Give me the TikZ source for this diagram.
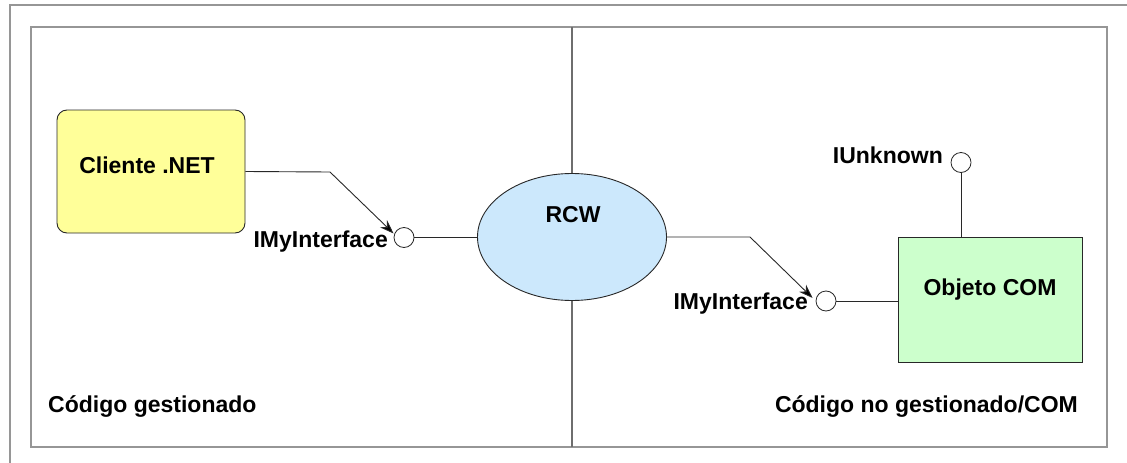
\documentclass[tikz,border=0pt]{standalone}
\usepackage{fontspec}
\setmainfont{Liberation Sans}
\usetikzlibrary{shapes.geometric,arrows.meta}

\definecolor{framegray}{RGB}{150,150,150}
\definecolor{divgray}{RGB}{110,110,110}
\definecolor{linegray}{RGB}{40,40,40}
\definecolor{clientfill}{RGB}{255,255,153}
\definecolor{rcwfill}{RGB}{204,232,252}
\definecolor{comfill}{RGB}{204,255,204}

\tikzset{
  frameline/.style={draw=framegray, line width=1.8pt},
  divider/.style={draw=divgray, line width=1.5pt},
  txt/.style={font=\fontsize{23}{27}\selectfont\bfseries, text=black, inner sep=0pt},
  clientbox/.style={draw=linegray, line width=0.9pt, fill=clientfill, rounded corners=10pt,
    minimum width=188, minimum height=123, inner sep=0pt},
  rcwshape/.style={ellipse, draw=linegray, line width=0.9pt, fill=rcwfill,
    minimum width=189, minimum height=127, inner sep=0pt},
  combox/.style={draw=linegray, line width=0.9pt, fill=comfill,
    minimum width=184, minimum height=125, inner sep=0pt},
  iface/.style={circle, draw=linegray, line width=0.8pt, fill=white,
    minimum size=20, inner sep=0pt},
  conn/.style={draw=linegray, line width=0.9pt},
  arr/.style={conn, -{Stealth[length=14pt,width=10pt,fill=black]}},
}

\begin{document}
\begin{tikzpicture}[x=1pt, y=-1pt]
  \useasboundingbox (0,0) rectangle (1127,463);

  % window edge and inner frame
  \draw[frameline] (10,463) -- (10,5) -- (1127,5);
  \draw[frameline] (31,27) rectangle (1107,447);
  % boundary between managed and unmanaged code
  \draw[divider] (572,27) -- (572,447);

  % components
  \node[clientbox] (cliente) at (151,171.5) {};
  \node[txt, anchor=base] (tcliente) at (147,173) {Cliente .NET};

  \node[rcwshape] (rcw) at (572,237) {};
  \node[txt, anchor=base] (trcw) at (573,222) {RCW};

  \node[combox] (objeto) at (990,299.5) {};
  \node[txt, anchor=base] (tobjeto) at (990,295) {Objeto COM};

  % interface lollipops
  \node[iface] (ifL) at (404,237.5) {};
  \node[iface] (ifR) at (826,301) {};
  \node[iface] (ifU) at (961,162.5) {};

  \node[txt, anchor=base east] (lifL) at (388,247) {IMyInterface};
  \node[txt, anchor=base east] (lifR) at (808,309) {IMyInterface};
  \node[txt, anchor=base east] (lifU) at (943,163) {IUnknown};

  % region captions
  \node[txt, anchor=base west] (managed) at (48,412) {Código gestionado};
  \node[txt, anchor=base east] (unmanaged) at (1078,412) {Código no gestionado/COM};

  % arrow tips and bends of the calls
  \coordinate (tipL) at ([yshift=4pt]ifL.west);
  \coordinate (bendL) at (330,172);
  \coordinate (tipR) at ([xshift=-3pt,yshift=3pt]ifR.west);
  \coordinate (bendR) at (750,237);

  % connectors
  \draw[arr] (cliente.east) -- (bendL) -- (tipL);
  \draw[conn] (ifL.east) -- (ifL.east -| rcw.west);
  \draw[arr] (rcw.east) -- (bendR) -- (tipR);
  \draw[conn] (ifR.east) -- (ifR.east -| objeto.west);
  \draw[conn] (ifU.south) -- (ifU.south |- objeto.north);
\end{tikzpicture}
\end{document}
